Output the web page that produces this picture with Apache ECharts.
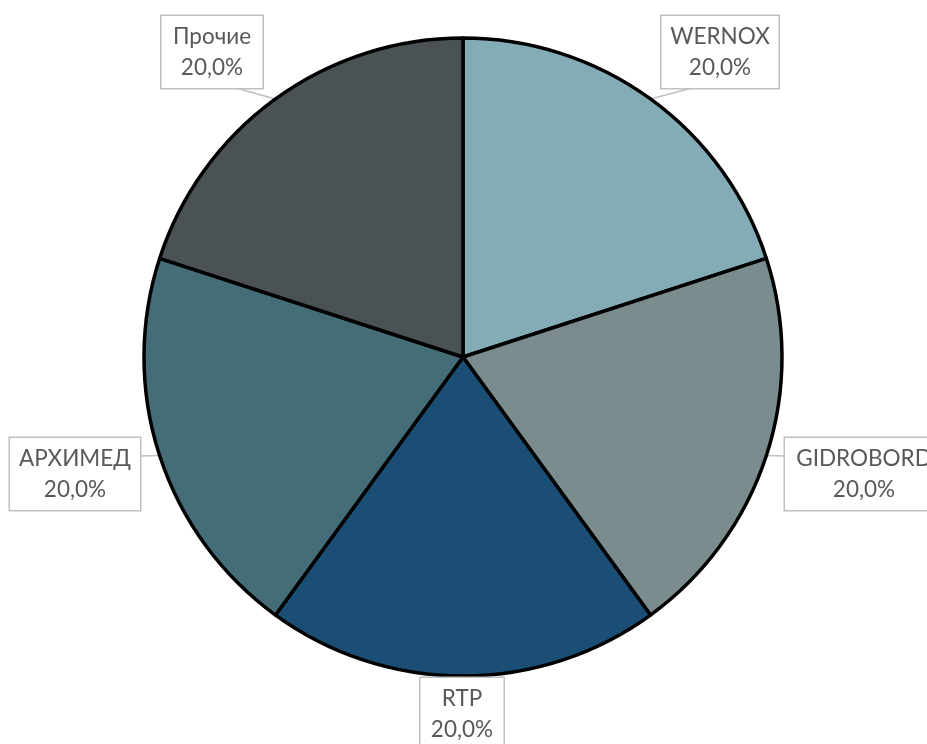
<!DOCTYPE html>
<html>
<head>
<meta charset="utf-8">
<script src="https://cdn.jsdelivr.net/npm/echarts@6/dist/echarts.min.js"></script>
<style>
html,body{margin:0;padding:0;background:#fff;}
#chart{width:927px;height:744px;}
</style>
</head>
<body>
<div id="chart"></div>
<script>
// Data
const categories = ['WERNOX', 'GIDROBORD', 'RTP', 'АРХИМЕД', 'Прочие'];
const values = [20, 20, 20, 20, 20];
const colors = ['#84ACB6', '#7A8C8E', '#1A4E74', '#456D77', '#4A5256'];

// Label box centres, widths and callout attach points (layout only)
const labelBoxes = [
  { cx: 720, cy: 52, w: 101, ax: 692, ay: 88 },
  { cx: 864, cy: 474, w: 142, ax: 786, ay: 456 },
  { cx: 462, cy: 714, w: 67, ax: 462, ay: 678 },
  { cx: 75, cy: 474, w: 114, ax: 140, ay: 456 },
  { cx: 212, cy: 52, w: 85, ax: 236, ay: 88 }
];

const chart = echarts.init(document.getElementById('chart'));
chart.setOption({
  backgroundColor: '#ffffff',
  animation: false,
  series: [{
    type: 'pie',
    center: [463, 357],
    radius: 319,
    startAngle: 90,
    clockwise: true,
    data: categories.map((c, i) => ({
      name: c,
      value: values[i],
      itemStyle: { color: colors[i] },
      label: { width: labelBoxes[i].w }
    })),
    itemStyle: { borderColor: '#000000', borderWidth: 3.5 },
    emphasis: { disabled: true },
    label: {
      show: true,
      position: 'outside',
      overflow: 'none',
      formatter: p => p.name + '\n' + p.percent.toFixed(1).replace('.', ',') + '%',
      fontFamily: 'Lato',
      fontSize: 22.5,
      lineHeight: 31,
      color: '#595959',
      align: 'center',
      backgroundColor: '#ffffff',
      borderColor: '#BFBFBF',
      borderWidth: 1.5,
      padding: [6, 8, 4, 8]
    },
    labelLine: {
      show: true,
      lineStyle: { color: '#BFBFBF', width: 1.5 }
    },
    labelLayout: function (params) {
      const b = labelBoxes[params.dataIndex];
      const tip = params.labelLinePoints ? params.labelLinePoints[0] : [b.ax, b.ay];
      return {
        x: b.cx,
        y: b.cy,
        align: 'center',
        verticalAlign: 'middle',
        labelLinePoints: [tip, [b.ax, b.ay], [b.ax, b.ay]]
      };
    }
  }]
});
</script>
</body>
</html>
